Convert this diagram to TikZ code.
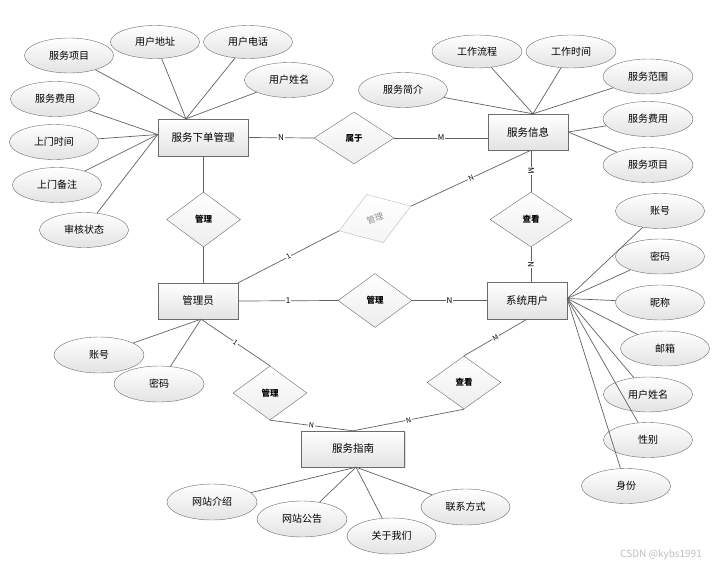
\documentclass[tikz,border=0pt]{standalone}
\usepackage{fontspec}
\setmainfont{Noto Sans CJK SC}
\usetikzlibrary{calc,shapes,shadows}

\begin{document}
\begin{tikzpicture}[x=1pt,y=-1pt,
  ent/.style={draw=gray!85!black, top color=white, bottom color=gray!22,
    minimum width=80pt, minimum height=36pt, inner sep=0pt,
    font=\fontsize{10.5}{12}\selectfont,
    drop shadow={opacity=.25,shadow xshift=1pt,shadow yshift=-1pt}},
  attr/.style={ellipse, draw=gray!85!black, top color=white, bottom color=gray!22,
    minimum width=89pt, minimum height=35pt, inner sep=0pt,
    font=\fontsize{10}{12}\selectfont},
  rel/.style={diamond, draw=gray!85!black, top color=white, bottom color=gray!14,
    minimum width=74pt, minimum height=54pt, inner sep=0pt,
    font=\bfseries\fontsize{8.5}{10}\selectfont},
  card/.style={fill=white, inner sep=.8pt, font=\fontsize{8}{9}\selectfont},
  smallcard/.style={card, font=\fontsize{7}{8}\selectfont},
  conn/.style={draw=black!62, line width=.7pt}
]
\useasboundingbox (0,0) rectangle (728,568);

% entities
\node[ent, minimum width=90pt, minimum height=37pt] (sxd) at (203,137.5) {服务下单管理};
\node[ent] (fwxx) at (528,132) {服务信息};
\node[ent] (gly) at (198,301) {管理员};
\node[ent, minimum height=37pt] (xtyh) at (527,300.5) {系统用户};
\node[ent, minimum width=103pt] (fwzn) at (353,449) {服务指南};

% relations
\node[rel, minimum width=80pt, minimum height=52pt] (sy) at (354,138) {属于};
\node[rel, minimum height=55pt] (gl1) at (203.5,219.5) {管理};
\node[rel, minimum width=82pt, minimum height=55pt] (ck1) at (531,219.5) {查看};
\node[rel] (gl2) at (375,300.5) {管理};
\node[rel] (gl3) at (270,393) {管理};
\node[rel, minimum height=53pt] (ck2) at (464,382.5) {查看};
\node[rel, rotate=19, minimum width=76pt, minimum height=51pt, draw=gray!55,
  text=gray!90, bottom color=gray!8, font=\fontsize{8.5}{10}\selectfont] (gl4) at (375,218.5) {管理};

% attributes of sxd
\node[attr] (sxd1) at (69,55.5) {服务项目};
\node[attr, minimum height=33pt] (sxd2) at (155,42) {用户地址};
\node[attr, minimum height=33pt] (sxd3) at (248,42) {用户电话};
\node[attr] (sxd4) at (289,80) {用户姓名};
\node[attr] (sxd5) at (55,99) {服务费用};
\node[attr] (sxd6) at (54,142) {上门时间};
\node[attr] (sxd7) at (57,185) {上门备注};
\node[attr] (sxd8) at (84,230) {审核状态};

% attributes of fwxx
\node[attr, minimum width=90pt, minimum height=33pt] (fwxx1) at (477,51.5) {工作流程};
\node[attr, minimum width=90pt, minimum height=33pt] (fwxx2) at (571,51.5) {工作时间};
\node[attr] (fwxx3) at (403,90) {服务简介};
\node[attr, minimum width=90pt] (fwxx4) at (648,76.5) {服务范围};
\node[attr, minimum width=90pt] (fwxx5) at (648,119) {服务费用};
\node[attr, minimum width=90pt] (fwxx6) at (648,165) {服务项目};

% attributes of gly
\node[attr, minimum width=90pt, minimum height=36pt] (gly1) at (99,355) {账号};
\node[attr, minimum width=90pt, minimum height=36pt] (gly2) at (159,384) {密码};

% attributes of xtyh
\node[attr] (xtyh1) at (660,211) {账号};
\node[attr] (xtyh2) at (660,256.5) {密码};
\node[attr] (xtyh3) at (660,302.5) {昵称};
\node[attr] (xtyh4) at (665,348.5) {邮箱};
\node[attr] (xtyh5) at (648,394.5) {用户姓名};
\node[attr] (xtyh6) at (648,440) {性别};
\node[attr] (xtyh7) at (626,486) {身份};

% attributes of fwzn
\node[attr, minimum width=90pt, minimum height=36pt] (fwzn1) at (212,502) {网站介绍};
\node[attr, minimum width=90pt, minimum height=36pt] (fwzn2) at (302,519) {网站公告};
\node[attr, minimum width=89pt, minimum height=36pt] (fwzn3) at (391.5,536) {关于我们};
\node[attr, minimum width=89pt, minimum height=36pt] (fwzn4) at (465.5,507) {联系方式};

\coordinate (sxd-t) at ([xshift=-17pt]sxd.north);
\coordinate (sxd-l) at ([yshift=3pt]sxd.west);
\coordinate (fwxx-t) at ([xshift=5pt]fwxx.north);
\coordinate (fwxx-s) at (ck1.north |- fwxx.south);
\coordinate (gly-s) at ([xshift=3pt]gly.south);
\coordinate (xtyh-e) at ([yshift=2pt]xtyh.east);
\coordinate (fwzn-s) at ([xshift=3pt]fwzn.south);

% attribute lines
\draw[conn] (sxd1) -- (sxd-t);
\draw[conn] (sxd2) -- (sxd-t);
\draw[conn] (sxd3) -- (sxd-t);
\draw[conn] (sxd4) -- (sxd-t);
\draw[conn] (sxd5) -- (sxd-l);
\draw[conn] (sxd6) -- (sxd-l);
\draw[conn] (sxd7) -- (sxd-l);
\draw[conn] (sxd8) -- (sxd-l);

\draw[conn] (fwxx1) -- (fwxx-t);
\draw[conn] (fwxx2) -- (fwxx-t);
\draw[conn] (fwxx3) -- (fwxx-t);
\draw[conn] (fwxx4) -- (fwxx-t);
\draw[conn] (fwxx5) -- (fwxx.east);
\draw[conn] (fwxx6) -- (fwxx.east);

\draw[conn] (gly1) -- (gly-s);
\draw[conn] (gly2) -- (gly-s);

\draw[conn] (xtyh1) -- (xtyh-e);
\draw[conn] (xtyh2) -- (xtyh-e);
\draw[conn] (xtyh3) -- (xtyh-e);
\draw[conn] (xtyh4) -- (xtyh-e);
\draw[conn] (xtyh5) -- (xtyh-e);
\draw[conn] (xtyh6) -- (xtyh-e);
\draw[conn] (xtyh7) -- (xtyh-e);

\draw[conn] (fwzn1) -- (fwzn-s);
\draw[conn] (fwzn2) -- (fwzn-s);
\draw[conn] (fwzn3) -- (fwzn-s);
\draw[conn] (fwzn4) -- (fwzn-s);

% relation lines
\draw[conn] (sxd.east) -- node[card]{N} (sy.west);
\draw[conn] (sy.east) -- node[card]{M} (sy.east -| fwxx.west);
\draw[conn] (gl1.north) -- (gl1.north |- sxd.south);
\draw[conn] (gl1.south) -- (gl1.south |- gly.north);
\draw[conn] (ck1.north) -- node[card,rotate=-90]{M} (fwxx-s);
\draw[conn] (ck1.south) -- node[card,rotate=90]{N} (ck1.south |- xtyh.north);
\draw[conn] (gly.north east) -- node[smallcard,sloped]{1} (gl4.west);
\draw[conn] (gl4.east) -- node[smallcard,sloped]{N} (fwxx-s);
\draw[conn] (gly.east) -- node[card]{1} (gl2.west);
\draw[conn] (gl2.east) -- node[card]{N} (xtyh.west);
\draw[conn] (gly-s) -- node[smallcard,sloped]{1} (gl3.north);
\draw[conn] (gl3.south) -- node[smallcard,sloped]{N} (fwzn.north);
\draw[conn] (xtyh.south) -- node[smallcard,sloped]{M} (ck2.north);
\draw[conn] (ck2.south) -- node[smallcard,sloped]{N} (fwzn.north);

\node[text=gray!50, font=\fontsize{10}{11}\selectfont] (mark) at (661,555) {CSDN @kybs1991};

\end{tikzpicture}
\end{document}
